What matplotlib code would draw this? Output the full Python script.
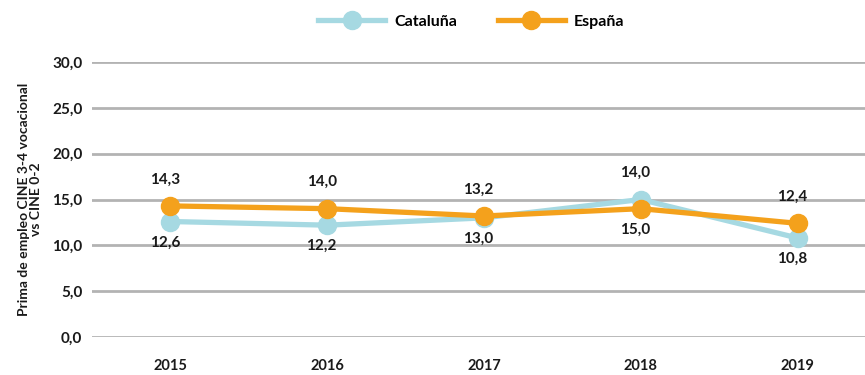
import matplotlib
matplotlib.use("Agg")
import matplotlib.pyplot as plt

years = ["2015", "2016", "2017", "2018", "2019"]
cataluna = [12.6, 12.2, 13.0, 15.0, 10.8]
espana = [14.3, 14.0, 13.2, 14.0, 12.4]

COL_CAT = "#a6d9e2"
COL_ESP = "#f4a11c"

plt.rcParams["font.family"] = ["Lato", "DejaVu Sans"]

fig = plt.figure(figsize=(8.65, 3.75), dpi=100)
ax = fig.add_axes([92 / 865, 38 / 375, (865 - 92) / 865, 275 / 375])

x = list(range(len(years)))
ax.plot(x, cataluna, color=COL_CAT, lw=3.8, marker="o", ms=13, label="Cataluña", zorder=3)
ax.plot(x, espana, color=COL_ESP, lw=3.8, marker="o", ms=13, label="España", zorder=3)

def fmt(v):
    return f"{v:.1f}".replace(".", ",")

# España values above the higher point, Cataluña values below the lower one
for i in x:
    top = max(cataluna[i], espana[i])
    low = min(cataluna[i], espana[i])
    ax.annotate(fmt(espana[i]), (i, top), xytext=(-4, 14), textcoords="offset points",
                ha="center", va="bottom", fontsize=11, fontweight="bold", color="#1a1a1a")
    ax.annotate(fmt(cataluna[i]), (i, low), xytext=(-4, -10), textcoords="offset points",
                ha="center", va="top", fontsize=11, fontweight="bold", color="#1a1a1a")

ax.set_ylim(0, 30)
ax.set_xlim(-0.5, 4.43)
ax.set_yticks([0, 5, 10, 15, 20, 25, 30])
ax.set_yticklabels([fmt(v) for v in [0, 5, 10, 15, 20, 25, 30]])
ax.set_xticks(x)
ax.set_xticklabels(years)
ax.grid(axis="y", color="#b3b3b3", lw=2)
ax.set_axisbelow(True)
for s in ax.spines.values():
    s.set_visible(False)
ax.tick_params(length=0, labelsize=11, colors="#1a1a1a")
ax.tick_params(axis="y", pad=7)
ax.tick_params(axis="x", pad=16, labelsize=10.5)
for t in ax.get_xticklabels() + ax.get_yticklabels():
    t.set_fontweight("bold")

ax.set_ylabel("Prima de empleo CINE 3-4 vocacional\nvs CINE 0-2", fontsize=10,
              fontweight="bold", color="#1a1a1a", labelpad=7, linespacing=1.0)

leg = fig.legend(loc="center", bbox_to_anchor=(0.545, 1 - 22 / 375), ncol=2, frameon=False,
                 fontsize=11.5, handlelength=4.2, columnspacing=2.5, handletextpad=0.6)
for t in leg.get_texts():
    t.set_fontweight("bold")

fig.savefig("out.png", dpi=100)
